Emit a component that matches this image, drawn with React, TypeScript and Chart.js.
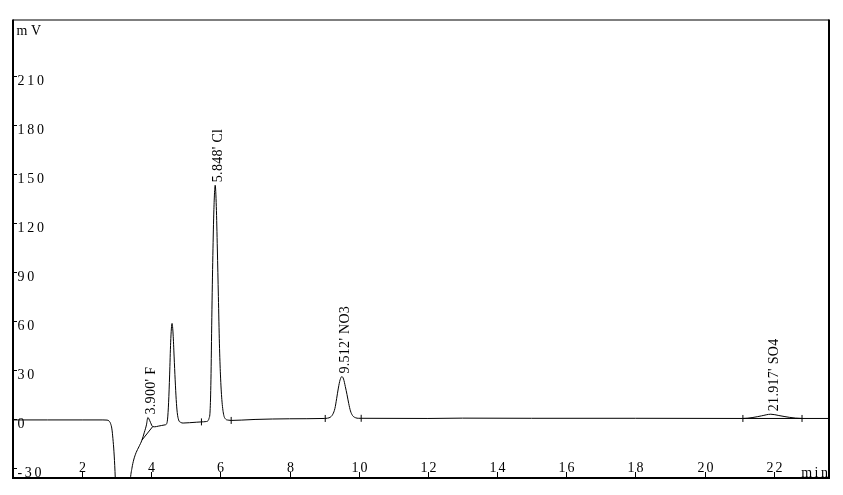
import React, { useEffect, useRef } from "react";
import { Chart, registerables } from "chart.js";

Chart.register(...registerables);

// Chromatogram signal (time in min, signal in mV)
const signalTime = [
  0.0, 1.0, 2.0, 2.6, 2.72, 2.78, 2.82, 2.86, 2.89, 2.92, 2.95, 2.98, 3.02, 3.3, 3.35, 3.39,
  3.44, 3.49, 3.56, 3.64, 3.73, 3.8, 3.86, 3.9, 3.93, 3.98, 4.04, 4.1, 4.2, 4.3,
  4.4, 4.44, 4.47, 4.5, 4.53, 4.56, 4.6, 4.63, 4.66, 4.69, 4.72, 4.75, 4.79, 4.85, 4.92,
  5.1, 5.3, 5.45, 5.58, 5.64, 5.67, 5.7, 5.725, 5.75, 5.78, 5.81, 5.848, 5.88, 5.91, 5.94,
  5.97, 6.0, 6.04, 6.09, 6.15, 6.22, 6.31, 6.6, 7.0, 8.0,
  9.0, 9.1, 9.18, 9.25, 9.31, 9.36, 9.41, 9.46, 9.512, 9.56, 9.61, 9.66, 9.71, 9.76, 9.82,
  9.9, 10.0, 10.07, 12.0, 13.0, 15.0, 18.0, 21.11, 21.4, 21.65, 21.917, 22.15, 22.45, 22.82,
  23.6,
];
const signalMV = [
  -0.5, -0.5, -0.5, -0.5, -0.6, -1.2, -2.6, -6, -12, -20, -32, -50, -75, -75, -55, -38,
  -30, -25, -20.5, -17, -12.8, -8, -3.5, 1.0, 0.2, -2.2, -4.6, -4.7, -4.3, -3.9,
  -3.5, -3.0, 0, 10, 27, 47, 58.5, 52, 38, 24, 12, 4, -0.5, -2, -2.4,
  -2.2, -1.9, -1.7, -1.5, -1.0, 0.5, 5, 24, 62, 100, 128, 143, 130, 104, 75,
  46, 27, 12, 3, 0, -0.6, -0.8, -0.6, -0.2, 0.2,
  0.4, 0.6, 1.2, 3, 6.5, 12.5, 19, 24, 26, 24.5, 20, 15, 9.5, 5, 2.2,
  0.9, 0.5, 0.5, 0.4, 0.6, 0.5, 0.5, 0.4, 1.0, 2.0, 3.0, 2.2, 1.1, 0.4,
  0.4,
];

// Labelled peaks
const peakTimes = [3.9, 5.848, 9.512, 21.917];
const peakHeights = [1.0, 143, 26, 3.0];
const peakLabels = ["3.900' F", "5.848' Cl", "9.512' NO3", "21.917' SO4"];

// Integration start/end markers
const markerTimes = [5.45, 6.31, 9.03, 10.07, 21.11, 22.82];
const markerMV = [-1.7, -0.8, 0.4, 0.5, 0.4, 0.4];

// Integration baselines
const fBaseTime = [3.73, 4.04];
const fBaseMV = [-12.8, -4.6];
const so4BaseTime = [21.11, 22.82];
const so4BaseMV = [0.4, 0.4];

// Axes
const xTicks = [2, 4, 6, 8, 10, 12, 14, 16, 18, 20, 22];
const yTicks = [-30, 0, 30, 60, 90, 120, 150, 180, 210];
const xRange = [0, 23.6];
const yRange = [-36, 244];
const yUnit = "mV";
const xUnit = "min";

const zip = (xs: number[], ys: number[]) => xs.map((x, i) => ({ x, y: ys[i] }));

const FONT = '14px "Liberation Serif", "Times New Roman", serif';

const overlay = {
  id: "overlay",
  afterDraw(chart: any) {
    const { ctx, chartArea: a } = chart;
    const x = chart.scales.x;
    const y = chart.scales.y;
    ctx.save();
    ctx.fillStyle = "#000";
    ctx.strokeStyle = "#000";
    ctx.font = FONT;

    // y ticks + labels (inside)
    ctx.lineWidth = 1;
    ctx.textAlign = "left";
    ctx.textBaseline = "alphabetic";
    (ctx as any).letterSpacing = "2.7px";
    yTicks.forEach((v) => {
      const py = Math.round(y.getPixelForValue(v)) + 0.5;
      ctx.beginPath();
      ctx.moveTo(a.left, py);
      ctx.lineTo(a.left + 4, py);
      ctx.stroke();
      ctx.fillText(String(v), a.left + 4.5, py + 8.5);
    });

    // x ticks + labels (inside)
    ctx.textAlign = "center";
    (ctx as any).letterSpacing = "2px";
    xTicks.forEach((v) => {
      const px = Math.round(x.getPixelForValue(v)) + 0.5;
      ctx.beginPath();
      ctx.moveTo(px, a.bottom);
      ctx.lineTo(px, a.bottom - 6);
      ctx.stroke();
      ctx.fillText(String(v), px + 1, a.bottom - 6.5);
    });

    // units
    (ctx as any).letterSpacing = "2.5px";
    ctx.textAlign = "right";
    ctx.fillText(xUnit, a.right + 1.5, a.bottom - 1);
    (ctx as any).letterSpacing = "3.5px";
    ctx.textAlign = "left";
    ctx.fillText(yUnit, a.left + 3.5, a.top + 15);

    // peak labels, rotated
    (ctx as any).letterSpacing = "0.3px";
    ctx.textAlign = "left";
    ctx.textBaseline = "alphabetic";
    peakTimes.forEach((t, i) => {
      const px = x.getPixelForValue(t);
      const py = y.getPixelForValue(peakHeights[i]) - 3;
      ctx.save();
      ctx.translate(px + 7, py);
      ctx.rotate(-Math.PI / 2);
      ctx.fillText(peakLabels[i], 0, 0);
      ctx.restore();
    });

    // frame
    (ctx as any).letterSpacing = "0px";
    ctx.lineWidth = 1.2;
    ctx.beginPath();
    ctx.moveTo(a.left, a.top);
    ctx.lineTo(a.right, a.top);
    ctx.stroke();
    ctx.lineWidth = 2;
    ctx.beginPath();
    ctx.moveTo(a.left, a.top - 0.6);
    ctx.lineTo(a.left, a.bottom);
    ctx.lineTo(a.right, a.bottom);
    ctx.lineTo(a.right, a.top - 0.6);
    ctx.stroke();
    ctx.restore();
  },
};

export default function App() {
  const ref = useRef<HTMLCanvasElement | null>(null);
  useEffect(() => {
    document.body.style.margin = "0";
    if (!ref.current) return;
    const chart = new Chart(ref.current, {
      type: "line",
      data: {
        datasets: [
          {
            data: zip(signalTime, signalMV),
            borderColor: "#000",
            borderWidth: 1,
            pointRadius: 0,
            cubicInterpolationMode: "monotone",
          },
          {
            data: zip(fBaseTime, fBaseMV),
            borderColor: "#000",
            borderWidth: 1,
            pointRadius: 0,
          },
          {
            data: zip(so4BaseTime, so4BaseMV),
            borderColor: "#000",
            borderWidth: 1,
            pointRadius: 0,
          },
          {
            data: zip(markerTimes, markerMV),
            showLine: false,
            pointStyle: "line",
            rotation: 90,
            pointRadius: 3.5,
            borderColor: "#000",
            borderWidth: 1,
          },
        ],
      },
      options: {
        responsive: false,
        animation: false,
        devicePixelRatio: 1,
        layout: { padding: { left: 13, top: 20, right: 14, bottom: 17 } },
        plugins: { legend: { display: false }, tooltip: { enabled: false } },
        scales: {
          x: { type: "linear", min: xRange[0], max: xRange[1], display: false },
          y: { type: "linear", min: yRange[0], max: yRange[1], display: false },
        },
      },
      plugins: [overlay],
    } as any);
    return () => chart.destroy();
  }, []);
  return (
    <div style={{ position: "absolute", left: 0, top: 0, width: 843, height: 495, background: "#fff" }}>
      <canvas ref={ref} width={843} height={495} />
    </div>
  );
}
